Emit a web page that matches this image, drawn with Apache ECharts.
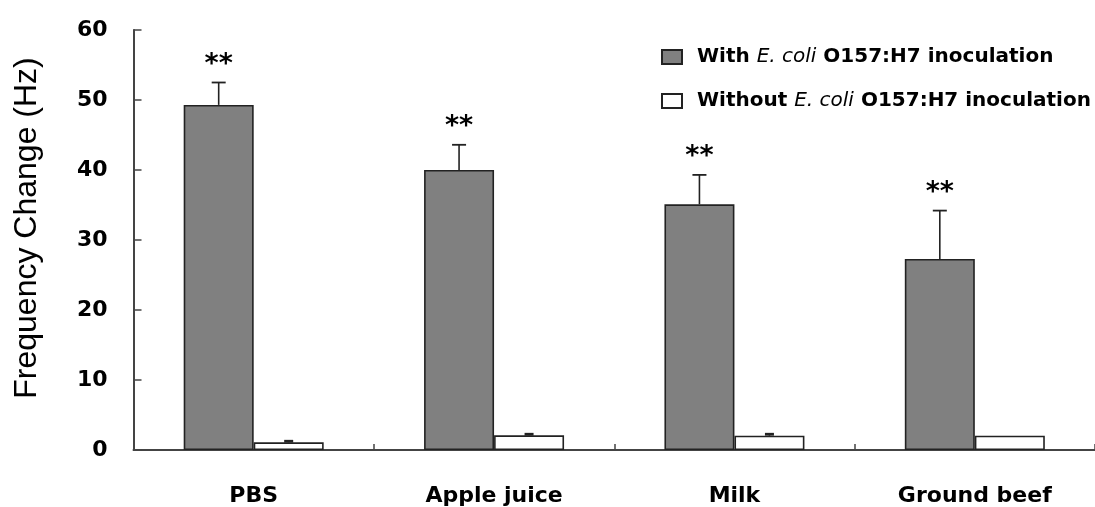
<!DOCTYPE html>
<html>
<head>
<meta charset="utf-8">
<script src="https://cdn.jsdelivr.net/npm/echarts@6/dist/echarts.min.js"></script>
<style>
  html, body { margin: 0; padding: 0; background: #fff; }
  #chart { width: 1095px; height: 507px; }
</style>
</head>
<body>
<div id="chart"></div>
<script>
// Frequency change of the sensor for each sample matrix
var categories = ['PBS', 'Apple juice', 'Milk', 'Ground beef'];
var withEcoli = [49.3, 40.0, 35.1, 27.3];
var withEcoliSD = [3.2, 3.6, 4.2, 6.9];
var withoutEcoli = [1.1, 2.1, 2.05, 2.05];
var withoutEcoliSD = [0.15, 0.15, 0.2, 0];
var significance = ['**', '**', '**', '**'];
var seriesNames = ['With E. coli O157:H7 inoculation', 'Without E. coli O157:H7 inoculation'];
var yTitle = 'Frequency Change (Hz)';
var yMin = 0, yMax = 60, yStep = 10;

var BAR_W = 70;
var SANS = 'Arial, "Liberation Sans", sans-serif';
var WIDE = '"DejaVu Sans", Verdana, sans-serif';
var INK = '#222';

// error bar (mean + SD) drawn over one bar of the group, with an optional marker above
function errorSeries(values, sds, side, capW, capLW, marks) {
  return {
    type: 'custom',
    z: 5,
    silent: true,
    data: values.map(function (v, i) { return [i, v, sds[i]]; }),
    renderItem: function (params, api) {
      var i = api.value(0), v = api.value(1), sd = api.value(2);
      var base = api.coord([i, v]);
      var top = api.coord([i, v + sd]);
      var x = base[0] + side * BAR_W / 2;
      var children = [];
      if (sd > 0) {
        children.push({
          type: 'line',
          shape: { x1: x, y1: base[1], x2: x, y2: top[1] },
          style: { stroke: INK, lineWidth: 1.6 }
        });
        children.push({
          type: 'line',
          shape: { x1: x - capW / 2, y1: top[1], x2: x + capW / 2, y2: top[1] },
          style: { stroke: INK, lineWidth: capLW }
        });
      }
      if (marks && marks[i]) {
        children.push({
          type: 'text',
          style: {
            x: x, y: top[1] - 18,
            text: marks[i],
            fill: '#000',
            font: 'bold 27px ' + WIDE,
            align: 'center', verticalAlign: 'middle'
          }
        });
      }
      return { type: 'group', children: children };
    }
  };
}

function richName(name) {
  var parts = name.split('E. coli');
  return '{b|' + parts[0] + '}{i|E. coli}{b|' + parts[1] + '}';
}

var chart = echarts.init(document.getElementById('chart'), null, { renderer: 'canvas' });

chart.setOption({
  animation: false,
  backgroundColor: '#fff',
  grid: { left: 133.5, top: 30, width: 966, bottom: 57, containLabel: false },
  graphic: [{
    type: 'text',
    x: 27, y: 228,
    rotation: Math.PI / 2,
    style: {
      text: yTitle,
      font: '32px ' + SANS,
      fill: '#000',
      align: 'center', verticalAlign: 'middle'
    }
  }],
  legend: {
    orient: 'vertical',
    left: 656,
    top: 42,
    itemGap: 24,
    itemWidth: 20,
    itemHeight: 14,
    icon: 'rect',
    data: seriesNames,
    formatter: richName,
    textStyle: {
      padding: [0, 0, 0, 10],
      rich: {
        b: { fontFamily: WIDE, fontWeight: 'bold', fontSize: 20, color: '#000' },
        i: { fontFamily: WIDE, fontStyle: 'italic', fontSize: 20, color: '#000' }
      }
    }
  },
  xAxis: {
    type: 'category',
    data: categories,
    axisLine: { lineStyle: { color: '#444', width: 2 } },
    axisTick: { show: true, inside: true, length: 6, interval: 0, lineStyle: { color: '#444', width: 1.5 } },
    axisLabel: { margin: 35, fontFamily: WIDE, fontWeight: 'bold', fontSize: 22, color: '#000', interval: 0 },
    splitLine: { show: false }
  },
  yAxis: {
    type: 'value',
    min: yMin, max: yMax, interval: yStep,
    axisLine: { show: true, lineStyle: { color: '#444', width: 2 } },
    axisTick: { show: true, inside: true, length: 8, lineStyle: { color: '#444', width: 1.5 } },
    axisLabel: { margin: 26, fontFamily: WIDE, fontWeight: 'bold', fontSize: 22, color: '#000' },
    splitLine: { show: false }
  },
  series: [
    {
      name: seriesNames[0],
      type: 'bar',
      data: withEcoli,
      barWidth: BAR_W,
      barGap: '0%',
      itemStyle: { color: '#808080', borderColor: INK, borderWidth: 1.6 }
    },
    {
      name: seriesNames[1],
      type: 'bar',
      data: withoutEcoli,
      barWidth: BAR_W,
      barGap: '0%',
      itemStyle: { color: '#ffffff', borderColor: INK, borderWidth: 1.6 }
    },
    errorSeries(withEcoli, withEcoliSD, -1, 14, 1.8, significance),
    errorSeries(withoutEcoli, withoutEcoliSD, 1, 9, 2.8, null)
  ]
});
</script>
</body>
</html>
